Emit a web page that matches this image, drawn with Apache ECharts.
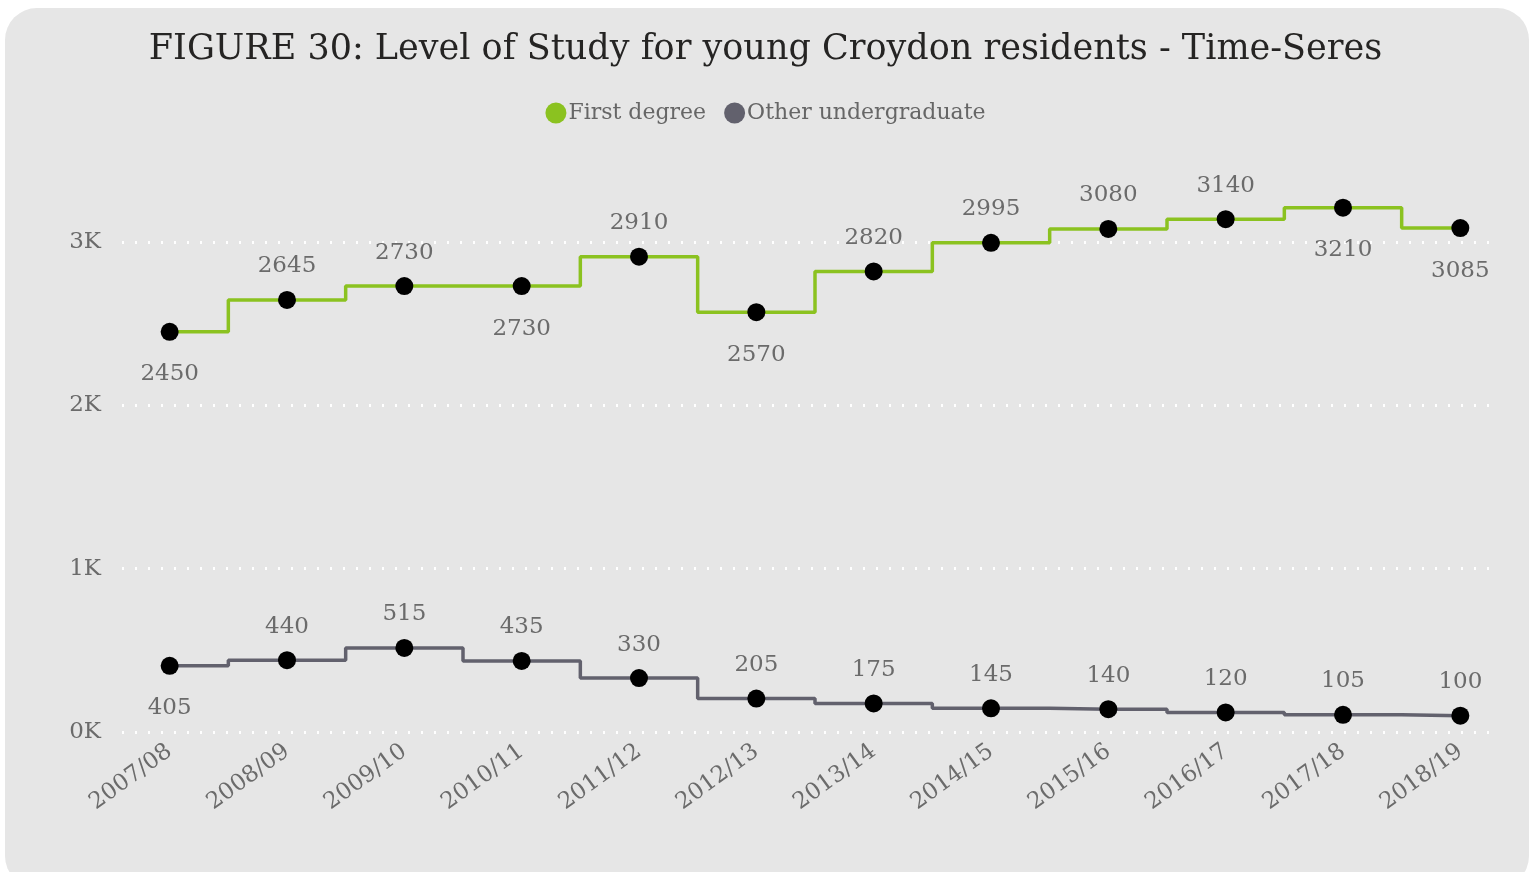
<!DOCTYPE html>
<html>
<head>
<meta charset="utf-8">
<script src="https://cdn.jsdelivr.net/npm/echarts@6/dist/echarts.min.js"></script>
<style>
  html, body { margin: 0; padding: 0; background: #ffffff; }
  #card {
    position: absolute; left: 5px; top: 8px; width: 1524px; height: 880px;
    background: #e6e6e6; border-radius: 32px;
  }
  #chart { position: absolute; left: 0; top: 0; width: 1531px; height: 872px; }
</style>
</head>
<body>
<div id="card"></div>
<div id="chart"></div>
<script>
// Academic years on the category axis
const years = ['2007/08', '2008/09', '2009/10', '2010/11', '2011/12', '2012/13',
               '2013/14', '2014/15', '2015/16', '2016/17', '2017/18', '2018/19'];
// Young Croydon residents by level of study
const firstDegree = [2450, 2645, 2730, 2730, 2910, 2570, 2820, 2995, 3080, 3140, 3210, 3085];
const otherUndergrad = [405, 440, 515, 435, 330, 205, 175, 145, 140, 120, 105, 100];
// Which data labels sit below their point
const firstDegreeBelow = [true, false, false, true, false, true, false, false, false, false, true, true];
const otherUndergradBelow = [true, false, false, false, false, false, false, false, false, false, false, false];
// Value-axis ticks
const yTicks = [0, 1000, 2000, 3000];

const FONT = '"DejaVu Serif", "Liberation Serif", serif';
const GREEN = '#8bc220';
const GREY = '#62616d';
const LABEL = '#6b6b6b';

function withLabels(values, below) {
  return values.map((v, i) => ({
    value: v,
    label: below[i]
      ? { position: 'bottom', distance: 22 }
      : { position: 'top', distance: 13 }
  }));
}

const chart = echarts.init(document.getElementById('chart'));
chart.setOption({
  animation: false,
  backgroundColor: 'transparent',
  title: {
    text: 'FIGURE 30: Level of Study for young Croydon residents - Time-Seres',
    left: 'center',
    top: 27,
    textStyle: { fontFamily: FONT, fontSize: 35, fontWeight: 'normal', color: '#252423' }
  },
  legend: {
    top: 97,
    left: 'center',
    icon: 'circle',
    itemWidth: 21,
    itemHeight: 21,
    itemGap: 18,
    textStyle: { fontFamily: FONT, fontSize: 22, color: '#666666', padding: [0, 0, 0, -3] },
    data: [
      { name: 'First degree', itemStyle: { color: GREEN } },
      { name: 'Other undergraduate', itemStyle: { color: GREY } }
    ]
  },
  grid: [
    // grid for the value-axis labels and dotted gridlines
    { left: 122, right: 34, top: 242, bottom: 140 },
    // grid for the data
    { left: 111, right: 12, top: 160.33, bottom: 140 }
  ],
  xAxis: [
    { gridIndex: 0, type: 'value', min: 0, max: 1, show: false },
    {
      gridIndex: 1, type: 'category', data: years, boundaryGap: true,
      axisLine: { show: false }, axisTick: { show: false },
      axisLabel: { rotate: 36, margin: 17, fontFamily: FONT, fontSize: 23, color: LABEL }
    }
  ],
  yAxis: [
    {
      gridIndex: 0, type: 'value', min: 0, max: 3000, interval: 1000,
      axisLine: { show: false }, axisTick: { show: false },
      axisLabel: {
        margin: 21, fontFamily: FONT, fontSize: 23, color: LABEL,
        formatter: v => (yTicks.includes(v) ? (v / 1000) + 'K' : '')
      },
      splitLine: { show: true, lineStyle: { color: '#ffffff', width: 3, type: [2, 11] } }
    },
    { gridIndex: 1, type: 'value', min: 0, max: 3500, show: false }
  ],
  series: [
    {
      name: 'First degree', type: 'line', step: 'middle',
      xAxisIndex: 1, yAxisIndex: 1,
      data: withLabels(firstDegree, firstDegreeBelow),
      color: GREEN,
      lineStyle: { color: GREEN, width: 3.5 },
      symbol: 'circle', symbolSize: 18,
      itemStyle: { color: '#000000' },
      label: { show: true, fontFamily: FONT, fontSize: 23, color: LABEL },
      z: 3
    },
    {
      name: 'Other undergraduate', type: 'line', step: 'middle',
      xAxisIndex: 1, yAxisIndex: 1,
      data: withLabels(otherUndergrad, otherUndergradBelow),
      color: GREY,
      lineStyle: { color: GREY, width: 3.5 },
      symbol: 'circle', symbolSize: 18,
      itemStyle: { color: '#000000' },
      label: { show: true, fontFamily: FONT, fontSize: 23, color: LABEL },
      z: 3
    }
  ]
});
</script>
</body>
</html>
